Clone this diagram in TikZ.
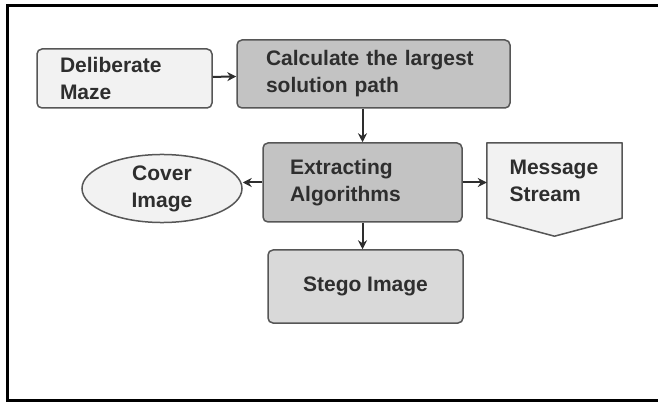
\documentclass[tikz,border=0pt]{standalone}
\usepackage{fontspec}
\setmainfont{Liberation Sans}
\usetikzlibrary{arrows.meta,shapes.geometric,calc,backgrounds}

\definecolor{boxline}{HTML}{565656}
\definecolor{txt}{HTML}{2E2E2E}
\definecolor{lightfill}{HTML}{F2F2F2}
\definecolor{midfill}{HTML}{D9D9D9}
\definecolor{darkfill}{HTML}{C3C3C3}

\begin{document}
\begin{tikzpicture}[x=1pt, y=-1pt,
    every node/.style={font=\fontsize{21}{27}\selectfont\bfseries, text=txt},
    stepbox/.style={draw=boxline, line width=1.5pt, rounded corners=5pt},
    link/.style={-{Stealth[length=9pt,width=9pt]}, line width=2pt, draw=txt}]
    \useasboundingbox (0,0) rectangle (658,403);
    \draw[line width=3pt] (662,6) -- (7,6) -- (7,400) -- (662,400);

    % boxes
    \node[stepbox, fill=lightfill, minimum width=175, minimum height=59, text width=129, align=left] (maze) at (124.5,78.5) {Deliberate\\Maze};
    \node[stepbox, fill=darkfill, minimum width=273, minimum height=68, text width=215, align=left] (calc) at (373.5,74) {Calculate the largest\\solution path};
    \node[stepbox, fill=darkfill, minimum width=199, minimum height=79, text width=145, align=left] (extract) at (362.5,182.5) {Extracting\\Algorithms};
    \node[stepbox, fill=midfill, minimum width=195, minimum height=73] (stego) at (365.5,286.5) {Stego Image};
    \node[ellipse, draw=boxline, line width=1.5pt, fill=lightfill, inner sep=1pt, minimum width=160, minimum height=67, align=center] (cover) at (162,188.5) {Cover\\Image};
    \node[minimum width=135, minimum height=75, text width=90, align=left] (msg) at (554.5,180.5) {Message\\Stream};
    \begin{scope}[on background layer]
        \draw[draw=boxline, line width=1.5pt, fill=lightfill, line join=round]
            (msg.north west) -- (msg.north east) -- (msg.south east)
            -- ($(msg.south)+(0,18)$) -- (msg.south west) -- cycle;
    \end{scope}

    % arrows
    \draw[link] (maze) -- (calc);
    \draw[link] (extract.north |- calc.south) -- (extract.north);
    \draw[link] (extract.west) -- (extract.west -| cover.east);
    \draw[link] (extract.east) -- (extract.east -| msg.west);
    \draw[link] (extract.south) -- (stego.north -| extract.south);
\end{tikzpicture}
\end{document}
